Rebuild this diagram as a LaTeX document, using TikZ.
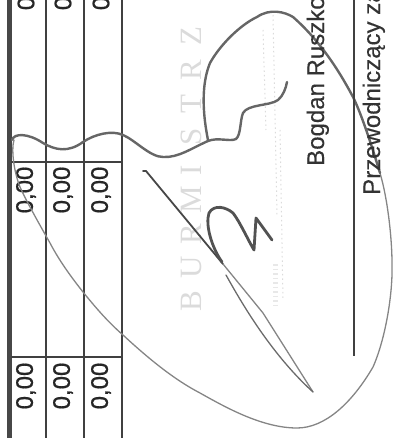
\documentclass[tikz,border=0pt]{standalone}
\usepackage{fontspec}
\setmainfont{Liberation Sans}
\newfontfamily\scanfont[FakeBold=0.7]{Liberation Sans}
\newfontfamily\namefont[FakeBold=0.3]{Liberation Sans}
\newfontfamily\sealfont{Liberation Serif}
\tikzset{
  tablerule/.style={draw=black!75,line width=2pt},
  amount/.style={rotate=90,font=\scanfont\fontsize{24}{24}\selectfont,text=black!85,inner sep=0pt},
  signtext/.style={rotate=90,anchor=base west,font=\namefont\fontsize{24}{24}\selectfont,text=black!80,inner sep=0pt},
  sealtext/.style={rotate=90,text=black!14,font=\sealfont\fontsize{31}{31}\selectfont,inner sep=0pt},
  sealspeck/.style={draw=black!14,line width=1pt,dash pattern=on 1.5pt off 3pt},
  signline/.style={draw=black!60,line width=2.4pt,line cap=round,line join=round},
  signthin/.style={draw=black!48,line width=1.3pt,line cap=round}
}
\begin{document}
\begin{tikzpicture}[x=1pt,y=-1pt]
  \useasboundingbox (0,0) rectangle (398,438);
  \begin{scope}
    \clip (0,0) rectangle (398,438);
    %tabela
    \draw [tablerule,line width=5pt,draw=black!72] (9,-2) -- (9,440);
    \foreach \colx in {46,84,122}
      \draw [tablerule] (\colx,-2) -- (\colx,440);
    \foreach \rowy in {162,357}
      \draw [tablerule] (11,\rowy) -- (122,\rowy);
    \foreach \colx in {26,63,101}{
      \node [amount] at (\colx,3.5) {0};
      \node [amount] at (\colx,190) {0,00};
      \node [amount] at (\colx,386) {0,00};
    }
    %pieczec
    \foreach \letter/\lettery in {B/301,U/267,R/234,M/200,I/170,S/137,T/104,R/70,Z/36}
      \node [sealtext] at (191,\lettery) {\letter};
    \draw [sealspeck] (263,30) -- (266,130);
    \draw [sealspeck] (273,15) -- (277,215);
    \draw [sealspeck] (280,130) -- (283,300);
    \draw [sealspeck,draw=black!9,line width=5pt] (275,264) -- (275,308);
    %podpis
    \draw [signthin] (14,140) .. controls (11,150) and (14,172) .. (20,187) .. controls (26,200) and (33,213) .. (50,243)
      .. controls (60,262) and (72,278) .. (83,292) .. controls (96,308) and (108,322) .. (123,335)
      .. controls (150,360) and (175,380) .. (200,393) .. controls (225,407) and (262,428) .. (297,428)
      .. controls (325,428) and (352,403) .. (373,367) .. controls (385,340) and (393,295) .. (392,263)
      .. controls (392,240) and (388,200) .. (380,173);
    \draw [signline] (380,173) .. controls (373,150) and (362,115) .. (353,97) .. controls (345,82) and (325,45) .. (293,17)
      .. controls (285,12) and (270,8) .. (257,17) .. controls (240,25) and (220,45) .. (210,63)
      .. controls (203,80) and (201,105) .. (208,140);
    \draw [signline] (12,140) .. controls (14,133) and (28,133) .. (43,143) .. controls (55,150) and (68,153) .. (83,142)
      .. controls (95,134) and (112,130) .. (123,135) .. controls (135,140) and (150,157) .. (163,157)
      .. controls (178,158) and (192,148) .. (208,141) .. controls (218,137) and (230,142) .. (236,139)
      .. controls (241,135) and (240,120) .. (243,113) .. controls (248,104) and (270,106) .. (278,100)
      .. controls (283,96) and (286,88) .. (287,82);
    \draw [signline,line width=1.8pt,draw=black!72] (143,171) -- (146,171) -- (223,264);
    \draw [signthin] (223,264) -- (263,313) -- (313,392);
    \draw [signthin,draw=black!58] (226,275) .. controls (240,300) and (270,353) .. (313,392);
    \draw [signline,line width=2.8pt,draw=black!68] (222,262) .. controls (212,248) and (205,225) .. (209,213)
      .. controls (214,204) and (226,207) .. (233,213) .. controls (240,222) and (248,240) .. (254,250)
      -- (256,218) -- (272,240);
    %podpisy
    \draw [tablerule] (354,-2) -- (354,356);
    \node [signtext] (mayor) at (324,166) {Bogdan Ruszko};
    \node [signtext] (chair) at (380,195) {Przewodniczący za};
  \end{scope}
\end{tikzpicture}
\end{document}
